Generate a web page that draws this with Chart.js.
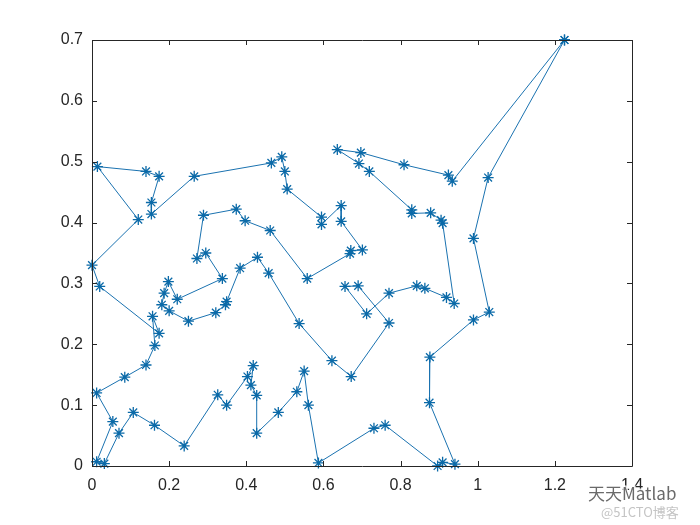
<!DOCTYPE html>
<html>
<head>
<meta charset="utf-8">
<script src="https://cdn.jsdelivr.net/npm/chart.js@4"></script>
<style>
  html, body { margin: 0; padding: 0; background: #ffffff; }
  #wrap { width: 700px; height: 525px; }
</style>
</head>
<body>
<div id="wrap"><canvas id="c" width="700" height="525"></canvas></div>
<script>
// Tour order (x and y of each city along the route)
const tourX = [1.225, 1.027, 0.989, 1.030, 0.989, 0.876, 0.875, 0.941, 0.909, 0.896,
  0.760, 0.731, 0.587, 0.561, 0.550, 0.531, 0.483, 0.427, 0.427, 0.412,
  0.418, 0.403, 0.349, 0.326, 0.239, 0.162, 0.107, 0.070, 0.032, 0.012,
  0.054, 0.012, 0.085, 0.140, 0.163, 0.157, 0.174, 0.020, 0.000, 0.120,
  0.014, 0.140, 0.174, 0.154, 0.154, 0.265, 0.465, 0.492, 0.500, 0.506,
  0.595, 0.595, 0.646, 0.646, 0.701, 0.671, 0.669, 0.558, 0.462, 0.397,
  0.374, 0.289, 0.272, 0.295, 0.338, 0.221, 0.198, 0.187, 0.181, 0.200,
  0.250, 0.321, 0.346, 0.349, 0.384, 0.429, 0.458, 0.537, 0.622, 0.672,
  0.770, 0.690, 0.656, 0.712, 0.770, 0.842, 0.863, 0.919, 0.939, 0.909,
  0.905, 0.878, 0.829, 0.829, 0.719, 0.692, 0.636, 0.697, 0.809, 0.924,
  0.934];
const tourY = [0.700, 0.474, 0.374, 0.253, 0.240, 0.179, 0.104, 0.003, 0.006, 0.000,
  0.067, 0.062, 0.005, 0.100, 0.156, 0.122, 0.088, 0.054, 0.116, 0.133,
  0.165, 0.147, 0.100, 0.117, 0.033, 0.067, 0.088, 0.054, 0.004, 0.007,
  0.073, 0.120, 0.146, 0.166, 0.198, 0.246, 0.218, 0.295, 0.330, 0.405,
  0.492, 0.484, 0.476, 0.433, 0.414, 0.476, 0.498, 0.508, 0.484, 0.455,
  0.409, 0.397, 0.428, 0.402, 0.355, 0.354, 0.349, 0.308, 0.387, 0.403,
  0.422, 0.412, 0.341, 0.350, 0.308, 0.274, 0.303, 0.284, 0.265, 0.255,
  0.238, 0.252, 0.265, 0.270, 0.325, 0.343, 0.317, 0.234, 0.173, 0.147,
  0.235, 0.296, 0.295, 0.250, 0.284, 0.296, 0.292, 0.277, 0.267, 0.399,
  0.404, 0.416, 0.415, 0.421, 0.484, 0.497, 0.520, 0.515, 0.495, 0.478,
  0.468];
const xTicks = [0, 0.2, 0.4, 0.6, 0.8, 1, 1.2, 1.4];
const yTicks = [0, 0.1, 0.2, 0.3, 0.4, 0.5, 0.6, 0.7];
const watermark1 = '天天Matlab';
const watermark2 = '@51CTO博客';

// closed tour: return to the starting city
const points = tourX.map((x, i) => ({ x: x, y: tourY[i] }));
points.push({ x: tourX[0], y: tourY[0] });

const AXIS = '#262626';
const FONT = '"Liberation Sans", Arial, sans-serif';

const boxPlugin = {
  id: 'box',
  afterDatasetsDraw(chart) {
    const ctx = chart.ctx;
    const a = chart.chartArea;
    const xs = chart.scales.x, ys = chart.scales.y;
    ctx.save();
    ctx.strokeStyle = AXIS;
    ctx.lineWidth = 1;
    ctx.beginPath();
    ctx.rect(Math.round(a.left) + 0.5, Math.round(a.top) + 0.5,
             Math.round(a.right - a.left), Math.round(a.bottom - a.top));
    ctx.stroke();
    const tl = 5;
    ctx.beginPath();
    xTicks.forEach(v => {
      const px = Math.round(xs.getPixelForValue(v)) + 0.5;
      ctx.moveTo(px, a.bottom); ctx.lineTo(px, a.bottom - tl);
      ctx.moveTo(px, a.top); ctx.lineTo(px, a.top + tl);
    });
    yTicks.forEach(v => {
      const py = Math.round(ys.getPixelForValue(v)) + 0.5;
      ctx.moveTo(a.left, py); ctx.lineTo(a.left + tl, py);
      ctx.moveTo(a.right, py); ctx.lineTo(a.right - tl, py);
    });
    ctx.stroke();
    ctx.restore();
  },
  afterDraw(chart) {
    const ctx = chart.ctx;
    ctx.save();
    ctx.textBaseline = 'alphabetic';
    ctx.textAlign = 'left';
    ctx.font = '17px "Noto Sans CJK SC", ' + FONT;
    ctx.lineWidth = 3;
    ctx.strokeStyle = 'rgba(255,255,255,0.8)';
    ctx.strokeText(watermark1, 588, 500);
    ctx.fillStyle = '#6a6a6a';
    ctx.fillText(watermark1, 588, 500);
    ctx.font = '13px "Noto Sans CJK SC", ' + FONT;
    ctx.fillStyle = '#c4c4c4';
    ctx.fillText(watermark2, 601, 517);
    ctx.restore();
  }
};

new Chart(document.getElementById('c'), {
  type: 'scatter',
  data: {
    datasets: [{
      data: points,
      showLine: true,
      borderColor: '#1a72b0',
      borderWidth: 1,
      backgroundColor: '#0072BD',
      pointStyle: 'star',
      pointRadius: 5.5,
      pointBorderWidth: 1.3,
      pointBorderColor: '#0b6aa8',
      tension: 0,
      clip: false
    }]
  },
  options: {
    responsive: false,
    animation: false,
    devicePixelRatio: 1,
    layout: { padding: { left: 0, top: 40, right: 68, bottom: 0 } },
    plugins: { legend: { display: false }, tooltip: { enabled: false } },
    scales: {
      x: {
        type: 'linear', min: 0, max: 1.4,
        afterBuildTicks: s => { s.ticks = xTicks.map(v => ({ value: v })); },
        afterFit: s => { s.height = 59; },
        grid: { display: false, drawTicks: false },
        border: { display: false },
        ticks: {
          padding: 10, color: AXIS, maxRotation: 0, autoSkip: false,
          font: { family: FONT, size: 16 },
          callback: v => String(+Number(v).toFixed(1))
        }
      },
      y: {
        type: 'linear', min: 0, max: 0.7,
        afterBuildTicks: s => { s.ticks = yTicks.map(v => ({ value: v })); },
        afterFit: s => { s.width = 92; },
        grid: { display: false, drawTicks: false },
        border: { display: false },
        ticks: {
          padding: 9, color: AXIS, autoSkip: false,
          font: { family: FONT, size: 16 },
          callback: v => String(+Number(v).toFixed(1))
        }
      }
    }
  },
  plugins: [boxPlugin]
});
</script>
</body>
</html>
